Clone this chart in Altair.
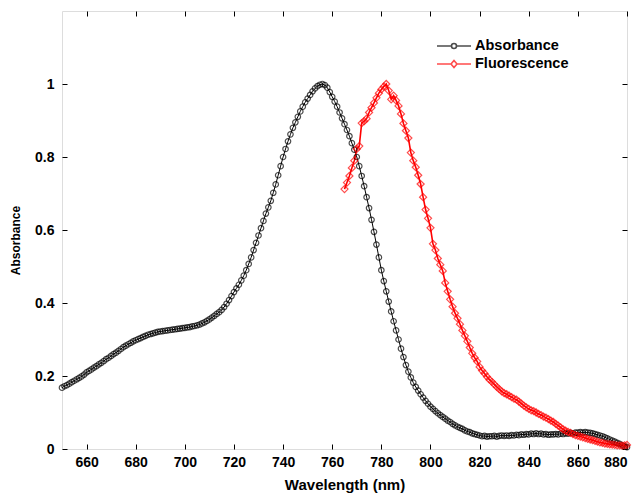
import altair as alt
import pandas as pd

# ---------------- data ----------------
abs_wavelength = list(range(650, 881))
abs_values = [
    0.168, 0.172, 0.175, 0.179, 0.183, 0.187, 0.191, 0.195, 0.199, 0.204, 0.210,
    0.214, 0.218, 0.223, 0.227, 0.232, 0.236, 0.241, 0.246, 0.250, 0.255,
    0.260, 0.264, 0.269, 0.274, 0.279, 0.283, 0.287, 0.291, 0.295, 0.298,
    0.301, 0.304, 0.307, 0.310, 0.313, 0.315, 0.317, 0.319, 0.321, 0.322,
    0.323, 0.324, 0.325, 0.326, 0.327, 0.328, 0.329, 0.330, 0.331, 0.332,
    0.333, 0.334, 0.336, 0.337, 0.339, 0.341, 0.344, 0.347, 0.351, 0.355,
    0.360, 0.365, 0.370, 0.375, 0.381, 0.389, 0.398, 0.408, 0.419, 0.430,
    0.440, 0.450, 0.462, 0.475, 0.490, 0.507, 0.525, 0.545, 0.565, 0.585,
    0.605, 0.625, 0.645, 0.662, 0.680, 0.702, 0.725, 0.750, 0.775, 0.800,
    0.822, 0.843, 0.862, 0.880, 0.895, 0.910, 0.925, 0.938, 0.950, 0.960,
    0.970, 0.980, 0.988, 0.994, 0.998, 1.000, 0.997, 0.990, 0.978, 0.965,
    0.952, 0.938, 0.922, 0.906, 0.890, 0.874, 0.857, 0.838, 0.820, 0.800,
    0.775, 0.748, 0.720, 0.690, 0.660, 0.628, 0.595, 0.560, 0.525, 0.490,
    0.460, 0.432, 0.404, 0.377, 0.350, 0.325, 0.300, 0.275, 0.252, 0.230,
    0.212, 0.196, 0.182, 0.170, 0.160, 0.150, 0.141, 0.132, 0.124, 0.116,
    0.110, 0.104, 0.098, 0.093, 0.088, 0.083, 0.078, 0.074, 0.069, 0.065,
    0.061, 0.058, 0.055, 0.051, 0.048, 0.046, 0.043, 0.041, 0.039, 0.037,
    0.035, 0.036, 0.034, 0.035, 0.035, 0.036, 0.034, 0.036, 0.037, 0.036,
    0.037, 0.036, 0.038, 0.037, 0.039, 0.038, 0.040, 0.039, 0.041, 0.040,
    0.042, 0.041, 0.043, 0.041, 0.042, 0.040, 0.041, 0.039, 0.040, 0.040,
    0.041, 0.040, 0.042, 0.041, 0.043, 0.042, 0.044, 0.043, 0.045, 0.045,
    0.046, 0.045, 0.046, 0.045, 0.044, 0.043, 0.041, 0.039, 0.037, 0.035,
    0.032, 0.029, 0.026, 0.023, 0.020, 0.017, 0.014, 0.010, 0.007, 0.005,
]

fl_wavelength = list(range(765, 881))
fl_values = [
    0.712, 0.730, 0.748, 0.770, 0.790, 0.822, 0.830, 0.893, 0.898, 0.905,
    0.922, 0.935, 0.948, 0.962, 0.975, 0.985, 0.993, 1.000, 0.982, 0.958,
    0.968, 0.955, 0.940, 0.918, 0.892, 0.872, 0.852, 0.812, 0.790, 0.772,
    0.750, 0.726, 0.690, 0.656, 0.632, 0.606, 0.562, 0.545, 0.522, 0.505,
    0.488, 0.455, 0.432, 0.410, 0.390, 0.372, 0.358, 0.342, 0.325, 0.310,
    0.295, 0.278, 0.262, 0.250, 0.240, 0.225, 0.215, 0.207, 0.198, 0.190,
    0.184, 0.177, 0.170, 0.164, 0.158, 0.153, 0.150, 0.146, 0.142, 0.138,
    0.135, 0.130, 0.124, 0.119, 0.114, 0.110, 0.106, 0.104, 0.100, 0.096,
    0.093, 0.089, 0.086, 0.082, 0.078, 0.074, 0.069, 0.064, 0.059, 0.054,
    0.050, 0.047, 0.044, 0.041, 0.038, 0.036, 0.034, 0.032, 0.030, 0.028,
    0.026, 0.024, 0.022, 0.020, 0.018, 0.017, 0.015, 0.014, 0.013, 0.012,
    0.011, 0.010, 0.010, 0.009, 0.010, 0.011,
]

series_names = ["Absorbance", "Fluorescence"]
series_colors = ["#000000", "#ff0000"]
x_ticks = [660, 680, 700, 720, 740, 760, 780, 800, 820, 840, 860, 880]
y_ticks = [0, 0.2, 0.4, 0.6, 0.8, 1.0]

df_abs = pd.DataFrame({"wavelength": abs_wavelength, "value": abs_values,
                       "series": series_names[0]})
df_fl = pd.DataFrame({"wavelength": fl_wavelength, "value": fl_values,
                      "series": series_names[1]})
df_all = pd.concat([df_abs, df_fl], ignore_index=True)

FONT = "Liberation Sans"

xscale = alt.Scale(domain=[650, 880], nice=False, zero=False)
yscale = alt.Scale(domain=[0, 1.2], nice=False)
cscale = alt.Scale(domain=series_names, range=series_colors)

# legend symbols: a line with the marker in the middle
leg_circle = ("M-1.7,0H-0.25M0.25,0H1.7"
              "M0.25,0A0.25,0.25 0 1,1 -0.25,0A0.25,0.25 0 1,1 0.25,0Z")
leg_diamond = "M-1.7,0H-0.3M0.3,0H1.7M0,-0.35L0.3,0L0,0.35L-0.3,0Z"
shape_scale = alt.Scale(domain=series_names, range=[leg_circle, leg_diamond])

axis_common = dict(grid=False, domain=False, tickColor="black", tickSize=5,
                   tickWidth=1, offset=-5)

x_main = alt.X("wavelength:Q", scale=xscale,
               axis=alt.Axis(values=x_ticks, format="d", labelPadding=6,
                             labelFont=FONT, labelFontWeight="bold",
                             labelFontSize=14, labelColor="black",
                             title="Wavelength (nm)", titleFont=FONT,
                             titleFontWeight="bold", titleFontSize=15,
                             titleColor="black", titlePadding=8,
                             **axis_common))
y_main = alt.Y("value:Q", scale=yscale,
               axis=alt.Axis(values=y_ticks, format=".1~f", labelPadding=8,
                             labelFont=FONT, labelFontWeight="bold",
                             labelFontSize=14, labelColor="black",
                             title="Absorbance", titleFont=FONT,
                             titleFontWeight="bold", titleFontSize=12,
                             titleColor="black", titlePadding=12,
                             titleY=229, **axis_common))
x_top = alt.X("wavelength:Q", scale=xscale,
              axis=alt.Axis(orient="top", values=x_ticks, labels=False,
                            title=None, **axis_common))
y_right = alt.Y("value:Q", scale=yscale,
                axis=alt.Axis(orient="right", values=y_ticks, labels=False,
                              title=None, **axis_common))
x_none = alt.X("wavelength:Q", scale=xscale, axis=None)
y_none = alt.Y("value:Q", scale=yscale, axis=None)
color_plain = alt.Color("series:N", scale=cscale)

legend = alt.Legend(title=None, orient="none", legendX=381, legendY=24,
                    symbolSize=400, symbolStrokeWidth=1.6, labelOffset=10,
                    labelFont=FONT, labelFontWeight="bold", labelFontSize=14.5,
                    labelColor="black", rowPadding=0, padding=0)
legend_layer = alt.Chart(df_all).transform_filter("false").mark_point(
    filled=False, strokeWidth=1.6).encode(
    x=x_none, y=y_none,
    color=alt.Color("series:N", scale=cscale, legend=legend),
    shape=alt.Shape("series:N", scale=shape_scale, legend=legend))

abs_line = alt.Chart(df_abs).mark_line(strokeWidth=1).encode(
    x=x_main, y=y_main, color=color_plain)
fl_line = alt.Chart(df_fl).mark_line(strokeWidth=1.6).encode(
    x=x_top, y=y_right, color=color_plain)
abs_pts = alt.Chart(df_abs).mark_point(shape="circle", filled=False, size=30,
                                       strokeWidth=1.2).encode(
    x=x_none, y=y_none, color=color_plain)
fl_pts = alt.Chart(df_fl).mark_point(shape="diamond", filled=False, size=50,
                                     strokeWidth=1.2).encode(
    x=x_none, y=y_none, color=color_plain)

chart = alt.layer(legend_layer, abs_line, fl_line, abs_pts, fl_pts).resolve_axis(
    x="independent", y="independent"
).properties(
    width=565, height=438,
    autosize=alt.AutoSizeParams(type="none"),
    padding={"left": 54, "top": 3, "right": 5, "bottom": 47},
).configure_view(stroke="black", strokeWidth=1.2).configure(background="white")

chart.save("out.html", embed_options={"renderer": "svg", "actions": False})
